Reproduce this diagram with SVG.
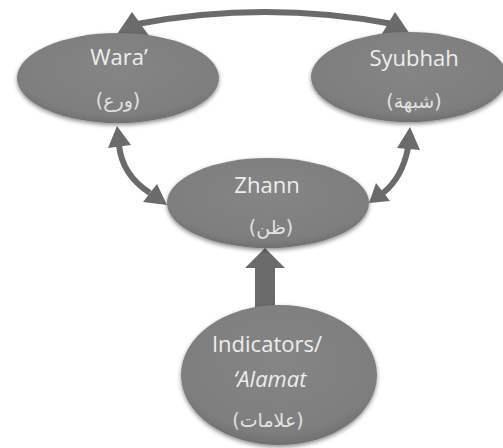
<svg xmlns="http://www.w3.org/2000/svg" width="503" height="448" viewBox="0 0 503 448">
  <style>
    .node ellipse { fill: url(#g); filter: url(#sh); }
    .lbl { font-family: "Open Sans", "Noto Sans", sans-serif; font-size: 22px; fill: #eeeeee; text-anchor: middle; }
    .ar { font-family: "DejaVu Sans", "Noto Sans", sans-serif; font-size: 19px; fill: #e2e2e2; text-anchor: middle; }
    .line { fill: none; stroke: #6b6b6b; stroke-width: 6; }
    .head { fill: #6b6b6b; }
  </style>
  <defs>
    <radialGradient id="g" cx="50%" cy="40%" r="60%">
      <stop offset="0" stop-color="#858585"/>
      <stop offset="0.85" stop-color="#7e7e7e"/>
      <stop offset="1" stop-color="#707070"/>
    </radialGradient>
    <filter id="sh" x="-10%" y="-10%" width="120%" height="130%">
      <feDropShadow dx="0" dy="2" stdDeviation="2" flood-color="#000" flood-opacity="0.45"/>
    </filter>
  </defs>
  <rect width="503" height="448" fill="#ffffff"/>
  <g id="connectors">
    <path class="line" d="M 137 24 Q 265 0 393 24"/>
    <polygon class="head" points="115,37 132,12 150,37"/>
    <polygon class="head" points="380,37 395,12 412,37"/>
    <path class="line" d="M 119 145 Q 122 175 150 193"/>
    <polygon class="head" points="117,126 108,148 131,145"/>
    <polygon class="head" points="143,202 157,184 167,205"/>
    <path class="line" d="M 408 148 Q 402 178 383 193"/>
    <polygon class="head" points="410,127 397,148 420,150"/>
    <polygon class="head" points="376,183 390,201 369,203"/>
    <polygon class="head" points="255,315 255,268 245,268 265,248 285,268 275,268 275,315"/>
  </g>
  <g id="wara" class="node">
    <ellipse cx="118" cy="78" rx="101" ry="45"/>
    <text class="lbl" x="119" y="65">Wara’</text>
    <text class="ar" x="118" y="107">(ورع)</text>
  </g>
  <g id="syubhah" class="node">
    <ellipse cx="409" cy="77" rx="98" ry="45"/>
    <text class="lbl" x="414" y="66">Syubhah</text>
    <text class="ar" x="414" y="108">(شبهة)</text>
  </g>
  <g id="zhann" class="node">
    <ellipse cx="268" cy="203" rx="101" ry="45"/>
    <text class="lbl" x="267" y="193">Zhann</text>
    <text class="ar" x="271" y="234">(ظن)</text>
  </g>
  <g id="indicators" class="node">
    <ellipse cx="279" cy="375" rx="98" ry="70"/>
    <text class="lbl" x="267" y="352">Indicators/</text>
    <text class="lbl" x="270" y="387" font-style="italic">‘Alamat</text>
    <text class="ar" x="268" y="427">(علامات)</text>
  </g>
</svg>
